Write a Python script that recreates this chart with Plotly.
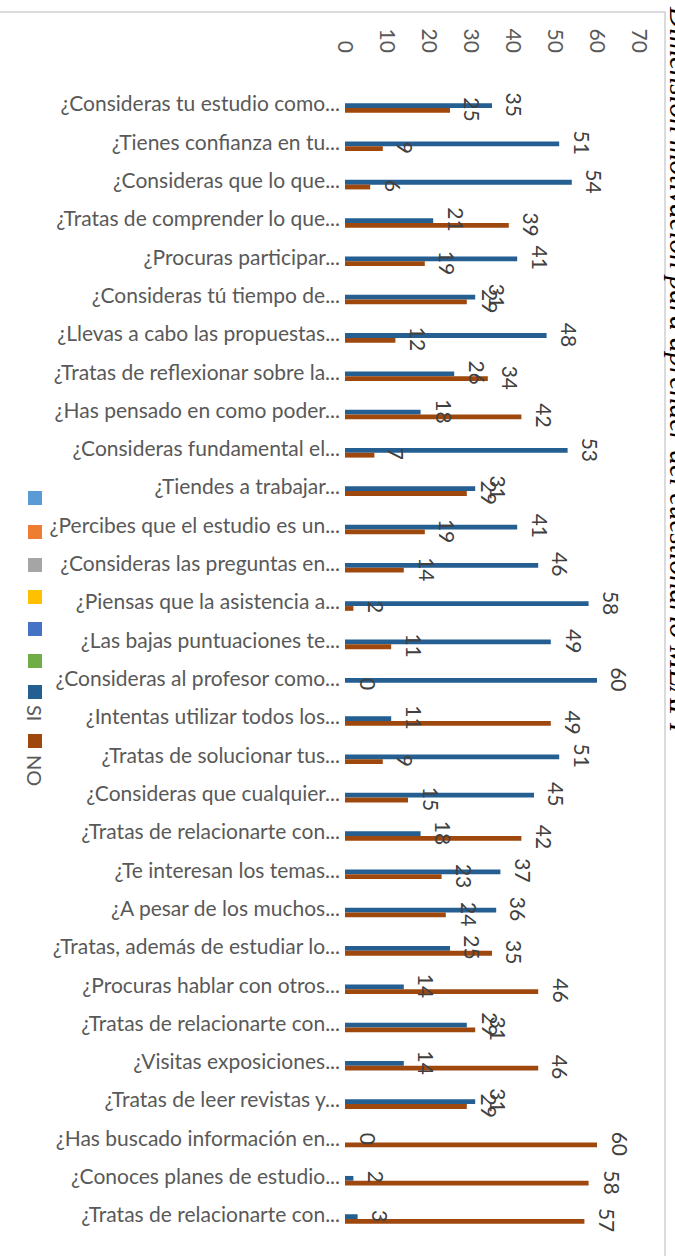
import plotly.graph_objects as go

categories = [
    "¿Consideras tu estudio como...",
    "¿Tienes confianza en tu...",
    "¿Consideras que lo que...",
    "¿Tratas de comprender lo que...",
    "¿Procuras participar...",
    "¿Consideras tú tiempo de...",
    "¿Llevas a cabo las propuestas...",
    "¿Tratas de reflexionar sobre la...",
    "¿Has pensado en como poder...",
    "¿Consideras fundamental el...",
    "¿Tiendes a trabajar...",
    "¿Percibes que el estudio es un...",
    "¿Consideras las preguntas en...",
    "¿Piensas que la asistencia a...",
    "¿Las bajas puntuaciones te...",
    "¿Consideras al profesor como...",
    "¿Intentas utilizar todos los...",
    "¿Tratas de solucionar tus...",
    "¿Consideras que cualquier...",
    "¿Tratas de relacionarte con...",
    "¿Te interesan los temas...",
    "¿A pesar de los muchos...",
    "¿Tratas, además de estudiar lo...",
    "¿Procuras hablar con otros...",
    "¿Tratas de relacionarte con...",
    "¿Visitas exposiciones...",
    "¿Tratas de leer revistas y...",
    "¿Has buscado información en...",
    "¿Conoces planes de estudio...",
    "¿Tratas de relacionarte con...",
]
si_values = [35, 51, 54, 21, 41, 31, 48, 26, 18, 53, 31, 41, 46, 58, 49, 60,
             11, 51, 45, 18, 37, 36, 25, 14, 29, 14, 31, 0, 2, 3]
no_values = [25, 9, 6, 39, 19, 29, 12, 34, 42, 7, 29, 19, 14, 2, 11, 0,
             49, 9, 15, 42, 23, 24, 35, 46, 31, 46, 29, 60, 58, 57]
x_ticks = [0, 10, 20, 30, 40, 50, 60, 70]
series_names = ["SI", "NO"]
legend_colors = ["#5B9BD5", "#ED7D31", "#A5A5A5", "#FFC000", "#4472C4", "#70AD47", "#255E91", "#9E480E"]
title_text = "Dimensión motivación para aprender del cuestionario MEAPI"

SI_COLOR = "#255E91"
NO_COLOR = "#9E480E"
TXT = "#595959"
LBL = "#404040"

W, H = 675, 1256
L, R, T, B = 345, 36, 81, 18
plot_w = W - L - R
plot_h = H - T - B

def px2x(px):
    return (px - L) / plot_w

def px2y(py):
    return (H - B - py) / plot_h

idx = list(range(len(categories)))
bw = 0.125
si_off = -0.02
no_off = si_off + bw

fig = go.Figure()
fig.add_trace(go.Bar(
    y=idx, x=si_values, orientation="h", name=series_names[0],
    marker=dict(color=SI_COLOR, line=dict(width=0)),
    width=bw, offset=si_off, showlegend=False, hoverinfo="skip",
))
fig.add_trace(go.Bar(
    y=idx, x=no_values, orientation="h", name=series_names[1],
    marker=dict(color=NO_COLOR, line=dict(width=0)),
    width=bw, offset=no_off, showlegend=False, hoverinfo="skip",
))

annotations = []
for i, (s, n) in enumerate(zip(si_values, no_values)):
    annotations.append(dict(x=s, y=i + si_off + bw / 2 - 0.03, xref="x", yref="y",
                            text=str(s), showarrow=False, textangle=90,
                            xanchor="center", yanchor="middle", xshift=23,
                            font=dict(family="Lato", size=21, color=LBL)))
    annotations.append(dict(x=n, y=i + no_off + bw / 2 - 0.03, xref="x", yref="y",
                            text=str(n), showarrow=False, textangle=90,
                            xanchor="center", yanchor="middle", xshift=23,
                            font=dict(family="Lato", size=21, color=LBL)))

# title
annotations.append(dict(x=px2x(680), y=px2y(370), xref="paper", yref="paper",
                        text="<i>" + title_text + "</i>", showarrow=False, textangle=90,
                        xanchor="center", yanchor="middle",
                        font=dict(family="Liberation Serif", size=29, color="#000000"),
                        ))

shapes = []
# frame
shapes.append(dict(type="rect", xref="paper", yref="paper",
                   x0=px2x(-3), x1=px2x(665), y0=px2y(1270), y1=px2y(12),
                   line=dict(color="#D0D0D0", width=1.5), fillcolor="rgba(0,0,0,0)", layer="below"))

# manual legend
sq_y = [498, 532, 565, 597, 629, 661, 692, 741]
for c, yy in zip(legend_colors, sq_y):
    shapes.append(dict(type="rect", xref="paper", yref="paper",
                       x0=px2x(28), x1=px2x(42), y0=px2y(yy + 7), y1=px2y(yy - 7),
                       line=dict(width=0), fillcolor=c))
for name, yy in zip(series_names, [713, 770]):
    annotations.append(dict(x=px2x(35), y=px2y(yy), xref="paper", yref="paper",
                            text=name, showarrow=False, textangle=90,
                            xanchor="center", yanchor="middle",
                            font=dict(family="Lato", size=20, color=TXT)))

fig.update_layout(
    template="none",
    width=W, height=H,
    margin=dict(l=L, r=R, t=T, b=B, pad=0, autoexpand=False),
    paper_bgcolor="white", plot_bgcolor="white",
    barmode="overlay",
    showlegend=False,
    hovermode=False,
    annotations=annotations,
    shapes=shapes,
    xaxis=dict(range=[0, 70], side="top", tickvals=x_ticks, tickangle=90,
               showgrid=False, zeroline=False, showline=False, ticks="",
               automargin=False, ticklabelstandoff=24, fixedrange=True,
               tickfont=dict(family="Lato", size=21, color=TXT)),
    yaxis=dict(range=[29.6, -0.6], tickvals=idx, ticktext=categories,
               showgrid=False, zeroline=False, showline=False, ticks="",
               automargin=False, ticklabelstandoff=4, fixedrange=True,
               tickfont=dict(family="Lato", size=21, color=TXT)),
)

fig.write_html("out.html", config={"displayModeBar": False},
               post_script="document.body.style.margin='0';document.body.style.overflow='hidden';")
